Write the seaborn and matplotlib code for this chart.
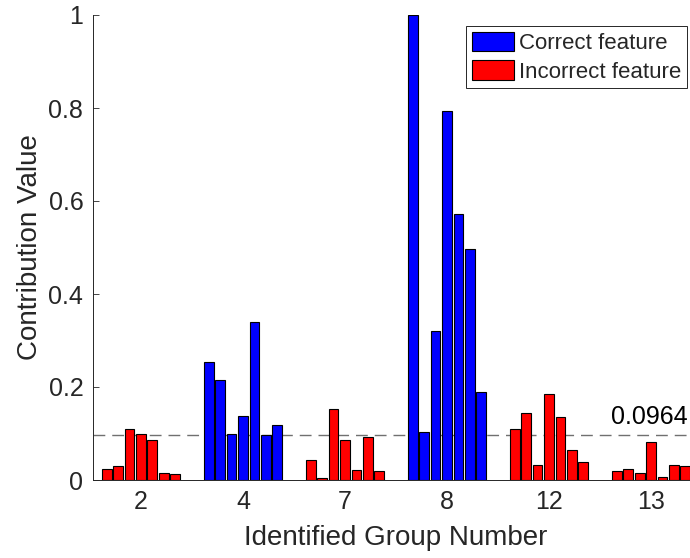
import numpy as np
import pandas as pd
import matplotlib
matplotlib.use("Agg")
import matplotlib.pyplot as plt
import matplotlib.transforms as mtransforms
import seaborn as sns
from matplotlib.patches import Patch

# ---- data ----
groups = ["2", "4", "7", "8", "12", "13"]
group_type = ["Incorrect", "Correct", "Incorrect", "Correct", "Incorrect", "Incorrect"]
g2 = [0.024, 0.031, 0.109, 0.098, 0.086, 0.014, 0.013]
g4 = [0.253, 0.216, 0.098, 0.138, 0.340, 0.097, 0.119]
g7 = [0.042, 0.004, 0.153, 0.086, 0.022, 0.092, 0.020]
g8 = [1.000, 0.103, 0.321, 0.794, 0.572, 0.496, 0.190]
g12 = [0.109, 0.145, 0.032, 0.185, 0.136, 0.065, 0.038]
g13 = [0.019, 0.024, 0.016, 0.081, 0.006, 0.033, 0.030]
threshold = 0.0964
legend_labels = ["Correct feature", "Incorrect feature"]

values = [g2, g4, g7, g8, g12, g13]
rows = []
for g, vals in zip(groups, values):
    for i, v in enumerate(vals):
        rows.append({"group": g, "idx": i, "value": v})
df = pd.DataFrame(rows)

BLUE = (0, 0, 1)
RED = (1, 0, 0)
AX_COL = "#262626"

sns.set_style("white")
plt.rcParams["font.family"] = ["Liberation Sans", "DejaVu Sans"]

fig = plt.figure(figsize=(6.9, 5.58), dpi=100)
ax = fig.add_axes([93 / 690, 78 / 558, 606 / 690, 465 / 558])

sns.barplot(data=df, x="group", y="value", hue="idx", order=groups,
            palette=["#888888"] * 7, width=0.78, gap=0.15, dodge=True,
            errorbar=None, legend=False, ax=ax, saturation=1)

for p in ax.patches:
    xc = p.get_x() + p.get_width() / 2
    gi = int(round(xc))
    col = BLUE if group_type[gi] == "Correct" else RED
    p.set_facecolor(col)
    p.set_edgecolor("black")
    p.set_linewidth(0.8)

ax.axhline(threshold, color="#707070", lw=1.0, linestyle=(0, (8.5, 5)), zorder=0.5)
ax.text(0.982, threshold + 0.024, f"{threshold:.4f}",
        transform=mtransforms.blended_transform_factory(ax.transAxes, ax.transData),
        ha="right", va="baseline", fontsize=18, color="black")

ax.set_xlim(-0.47, 5.47)
ax.set_ylim(0, 1)
ax.set_yticks([0, 0.2, 0.4, 0.6, 0.8, 1.0])
ax.set_yticklabels(["0", "0.2", "0.4", "0.6", "0.8", "1"])
ax.tick_params(axis="both", direction="in", length=4.3, width=0.6, colors=AX_COL,
               labelsize=18, pad=7)
ax.tick_params(axis="y", left=True)
ax.tick_params(axis="x", bottom=True, length=4.3)
for s in ["top", "right"]:
    ax.spines[s].set_visible(False)
for s in ["left", "bottom"]:
    ax.spines[s].set_color(AX_COL)
    ax.spines[s].set_linewidth(0.7)

ax.set_xlabel("Identified Group Number", fontsize=20, color=AX_COL, labelpad=8)
ax.set_ylabel("Contribution Value", fontsize=20, color=AX_COL, labelpad=4)

handles = [Patch(facecolor=BLUE, edgecolor="black", lw=0.8),
           Patch(facecolor=RED, edgecolor="black", lw=0.8)]
leg = fig.legend(handles, legend_labels, loc="upper right",
                 bbox_to_anchor=(687.3 / 690, 1 - 26 / 558), fontsize=16,
                 frameon=True, fancybox=False, framealpha=1, edgecolor=AX_COL,
                 handlelength=1.9, handleheight=0.95, handletextpad=0.25,
                 borderpad=0.25, labelspacing=0.3, borderaxespad=0)
leg.get_frame().set_linewidth(0.7)

fig.savefig("out.png", dpi=100)
